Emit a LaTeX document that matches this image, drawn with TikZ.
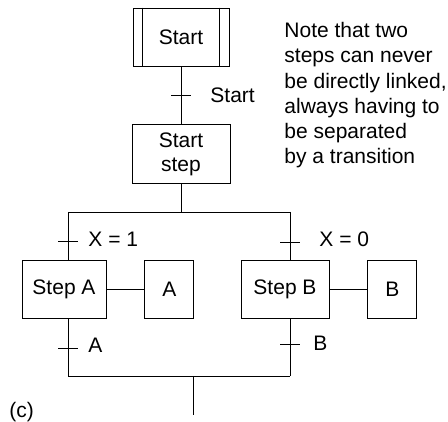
\documentclass[tikz,border=0pt]{standalone}
\usepackage{fontspec}
\setmainfont{Liberation Sans}
\usepackage{tikz}
\usetikzlibrary{positioning}

\begin{document}
\begin{tikzpicture}[x=1pt,y=1pt,node distance=38pt,line width=0.9pt,font=\fontsize{21}{24}\selectfont]
\tikzstyle{stepbox}=[rectangle,draw=black,align=center,inner sep=0pt,minimum height=58pt]
\tikzstyle{lbl}=[anchor=base west,inner sep=0pt]
\useasboundingbox (0,0) rectangle (448,422);
% steps and actions
\node[stepbox,minimum width=96pt] (init) at (181,385) {Start};
\node[stepbox,minimum width=98pt,minimum height=59pt,below=58pt of init] (startstep) {Start\\step};
\node[stepbox,minimum width=84pt] (stepA) at (64,133) {Step A};
\node[stepbox,minimum width=49pt,right=of stepA] (actA) {A};
\node[stepbox,minimum width=88pt] (stepB) at (285,133) {Step B};
\node[stepbox,minimum width=49pt,right=of stepB] (actB) {B};
\draw ([xshift=10pt]init.north west) -- ([xshift=10pt]init.south west);
\draw ([xshift=-10pt]init.north east) -- ([xshift=-10pt]init.south east);
% divergence and convergence
\coordinate (divL) at (68,210);
\coordinate (divR) at (290,210);
\coordinate (joinL) at (68,46);
\coordinate (joinR) at (290,46);
\coordinate (exit) at (193,7);
% transitions
\coordinate (tStart) at (181,327);
\coordinate (tX1) at (68,181);
\coordinate (tX0) at (290,180);
\coordinate (tA) at (68,74);
\coordinate (tB) at (290,78);
\draw (init) -- (startstep);
\draw (startstep) -- (startstep.south |- divL);
\draw (divL) -- (divR);
\draw (divL) -- (divL |- stepA.north);
\draw (divR) -- (divR |- stepB.north);
\draw (stepA) -- (actA);
\draw (stepB) -- (actB);
\draw (stepA.south -| joinL) -- (joinL);
\draw (stepB.south -| joinR) -- (joinR);
\draw (joinL) -- (joinR);
\draw (exit |- joinL) -- (exit);
\foreach \t in {tStart,tX1,tX0,tA,tB}
  \draw ([xshift=-10pt]\t) -- ([xshift=10pt]\t);
% labels
\node[lbl] (lstart) at (210,319) {Start};
\node[lbl] (lx1) at (88,175) {X = 1};
\node[lbl] (lx0) at (319,175) {X = 0};
\node[lbl] (la) at (88,69) {A};
\node[lbl] (lb) at (313,71) {B};
\node[lbl] (cap) at (9,4.5) {(c)};
\node[anchor=north west,inner sep=0pt,align=left,font=\fontsize{21}{25.2}\selectfont] (note) at (284,400)
  {Note that two\\steps can never\\be directly linked,\\always having to\\be separated\\by a transition};
\end{tikzpicture}
\end{document}
